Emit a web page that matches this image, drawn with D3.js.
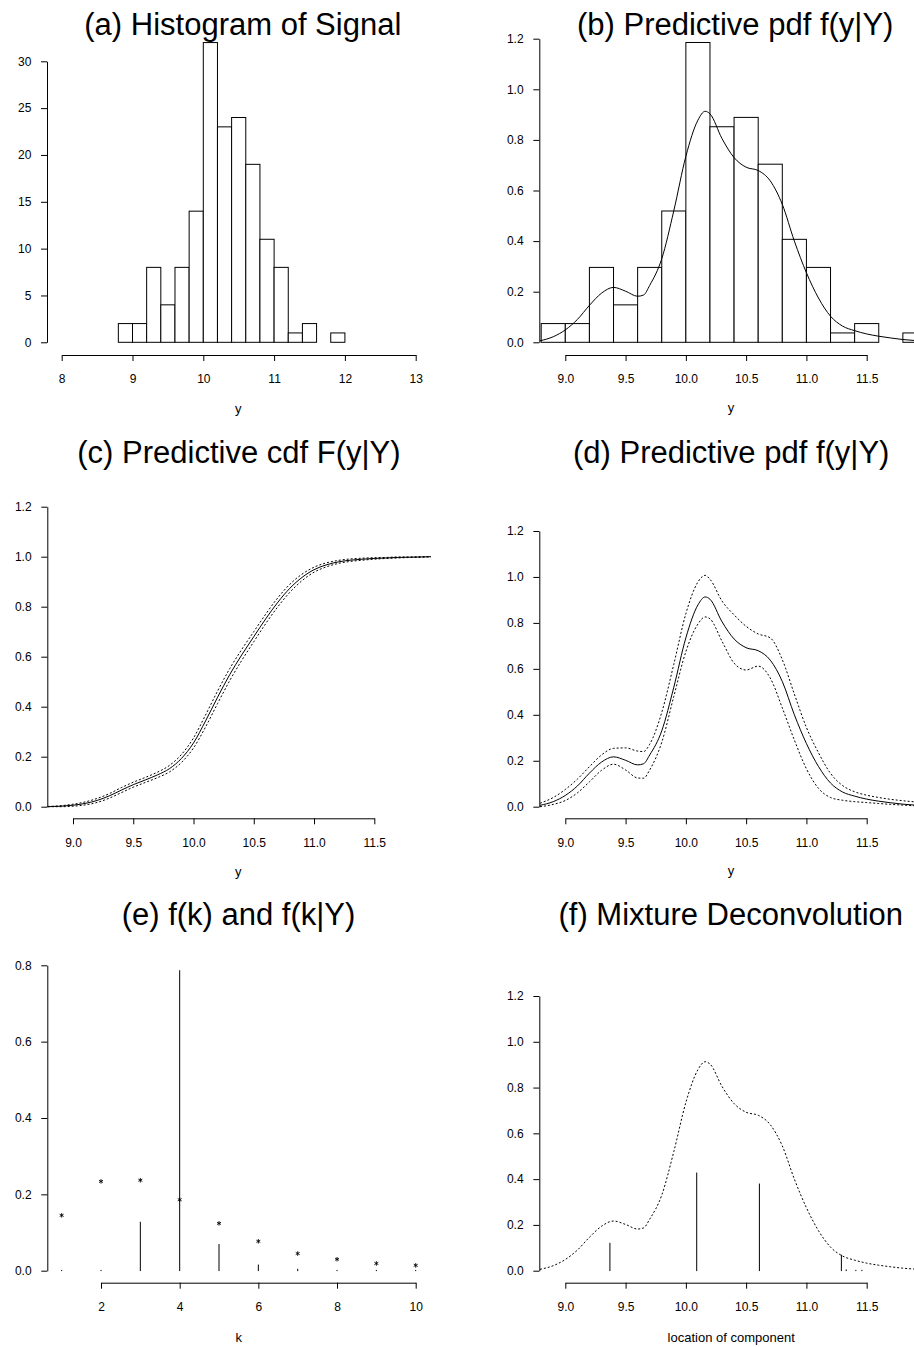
<!DOCTYPE html>
<html><head><meta charset="utf-8">
<script src="https://cdn.jsdelivr.net/npm/d3@7"></script>
<style>
body{margin:0;background:#fff}
svg text{font-family:"Liberation Sans",Arial,Helvetica,sans-serif;fill:#000}
</style>
</head><body><script>
// ---------- data ----------
const histBreaks = [8.8,9.0,9.2,9.4,9.6,9.8,10.0,10.2,10.4,10.6,10.8,11.0,11.2,11.4,11.6,11.8,12.0];
const histCounts = [2,2,8,4,8,14,32,23,24,19,11,8,1,2,0,1];
const histDensity = [0.074,0.074,0.296,0.148,0.296,0.519,1.185,0.852,0.889,0.704,0.407,0.296,0.037,0.074,0,0.037];

const yGrid   = [8.79,8.9,9.0,9.1,9.2,9.3,9.4,9.5,9.6,9.65,9.7,9.8,9.9,10.0,10.1,10.16,10.2,10.3,10.4,10.5,10.6,10.7,10.8,10.9,11.0,11.1,11.2,11.3,11.4,11.5,11.6,11.7,11.8,11.9,11.97];
const pdfMean = [0.006,0.022,0.049,0.09,0.146,0.194,0.217,0.202,0.182,0.187,0.225,0.33,0.52,0.735,0.878,0.913,0.903,0.805,0.73,0.692,0.679,0.638,0.545,0.40,0.275,0.175,0.103,0.064,0.046,0.033,0.024,0.017,0.011,0.007,0.005];
const pdfUpper= [0.015,0.04,0.075,0.12,0.174,0.225,0.254,0.256,0.242,0.24,0.272,0.41,0.62,0.84,0.978,1.007,0.99,0.895,0.835,0.785,0.752,0.735,0.64,0.49,0.345,0.235,0.145,0.092,0.065,0.05,0.04,0.032,0.026,0.021,0.018];
const pdfLower= [0.0,0.01,0.027,0.06,0.108,0.158,0.185,0.16,0.125,0.124,0.16,0.28,0.48,0.675,0.795,0.826,0.818,0.72,0.625,0.595,0.612,0.56,0.43,0.29,0.165,0.08,0.04,0.028,0.022,0.018,0.014,0.01,0.007,0.004,0.003];

const cdfGrid  = [8.79,8.9,9.0,9.1,9.2,9.3,9.4,9.5,9.6,9.7,9.8,9.9,10.0,10.1,10.2,10.3,10.4,10.5,10.6,10.7,10.8,10.9,11.0,11.1,11.2,11.3,11.4,11.5,11.6,11.7,11.8,11.9,11.97];
const cdfMean  = [0.0,0.002,0.006,0.013,0.025,0.043,0.066,0.088,0.107,0.127,0.152,0.193,0.255,0.343,0.438,0.528,0.607,0.68,0.752,0.818,0.874,0.917,0.948,0.967,0.979,0.986,0.99,0.993,0.995,0.997,0.998,0.999,1.0];
const cdfUpper = [0.001,0.004,0.01,0.019,0.033,0.052,0.076,0.098,0.117,0.138,0.165,0.209,0.275,0.367,0.463,0.552,0.629,0.70,0.771,0.836,0.89,0.93,0.958,0.975,0.985,0.991,0.994,0.996,0.997,0.999,0.999,1.0,1.0];
const cdfLower = [0.0,0.0,0.002,0.007,0.017,0.034,0.056,0.078,0.097,0.116,0.139,0.177,0.235,0.319,0.413,0.504,0.585,0.66,0.733,0.80,0.858,0.904,0.938,0.959,0.973,0.981,0.986,0.99,0.993,0.995,0.997,0.998,1.0];

const kValues = [1,2,3,4,5,6,7,8,9,10];
const priorK  = [0.145,0.234,0.237,0.186,0.124,0.077,0.045,0.030,0.019,0.014];
const postK   = [0.001,0.001,0.127,0.786,0.069,0.015,0.004,0.001,0.001,0.001];

const compLoc    = [9.37,10.09,10.61,11.29,11.33,11.41,11.46];
const compWeight = [0.12,0.427,0.379,0.068,0.004,0.002,0.002];

const xTicksA = [8,9,10,11,12,13];
const yTicksA = [0,5,10,15,20,25,30];
const xTicksY = [9.0,9.5,10.0,10.5,11.0,11.5];
const yTicksP = [0,0.2,0.4,0.6,0.8,1.0,1.2];
const xTicksK = [2,4,6,8,10];
const yTicksK = [0,0.2,0.4,0.6,0.8];

const titles = ["(a) Histogram of Signal","(b) Predictive pdf f(y|Y)","(c) Predictive cdf F(y|Y)",
                "(d) Predictive pdf f(y|Y)","(e) f(k) and f(k|Y)","(f) Mixture Deconvolution"];
const xLabels = ["y","y","y","y","k","location of component"];

// ---------- drawing ----------
const svg = d3.select("body").append("svg").attr("width",914).attr("height",1347);
const f1 = d3.format(".1f"), f0 = d3.format("d");

function axes(xs, ys, xt, yt, xf, yf, axX, axY, pad){
  const gy = svg.append("g").attr("transform",`translate(${axX},0)`)
    .call(d3.axisLeft(ys).tickValues(yt).tickFormat(yf).tickSize(6).tickSizeOuter(0).tickPadding(9.7));
  const gx = svg.append("g").attr("transform",`translate(0,${axY})`)
    .call(d3.axisBottom(xs).tickValues(xt).tickFormat(xf).tickSize(6).tickSizeOuter(0).tickPadding(pad));
  [gy,gx].forEach(g=>{
    g.attr("font-size",12).attr("font-family",'"Liberation Sans",Arial,sans-serif');
    g.selectAll("path,line").attr("stroke","#000");
    g.selectAll("text").attr("fill","#1a1a1a");
  });
}
function title(t, x, y){
  svg.append("text").attr("x",x).attr("y",y).attr("text-anchor","middle").attr("font-size",31).text(t);
}
function xlab(t, x, y){
  svg.append("text").attr("x",x).attr("y",y).attr("text-anchor","middle").attr("font-size",13).attr("fill","#1a1a1a").text(t);
}
function curve(xs, ys, X, Y, dash){
  const line = d3.line().x((d,i)=>xs(X[i])).y(d=>ys(d)).curve(d3.curveMonotoneX);
  svg.append("path").attr("d",line(Y)).attr("fill","none").attr("stroke","#000")
    .attr("stroke-width",1).attr("stroke-dasharray",dash||null);
}

// (a)
{
  const xs = d3.scaleLinear().domain([8,13]).range([61.7,415.7]);
  const ys = d3.scaleLinear().domain([0,30]).range([342.3,61.3]);
  svg.append("g").selectAll("rect").data(histCounts).join("rect")
    .attr("x",(d,i)=>xs(histBreaks[i])).attr("width",(d,i)=>xs(histBreaks[i+1])-xs(histBreaks[i]))
    .attr("y",d=>ys(d)).attr("height",d=>ys(0)-ys(d))
    .attr("fill","#fff").attr("stroke","#000").attr("stroke-width",1);
  axes(xs, ys, xTicksA, yTicksA, f0, f0, 47, 355, 13.2);
  title(titles[0], 242.8, 35);
  xlab(xLabels[0], 238.3, 412.5);
}
// (b)
{
  const xs = d3.scaleLinear().domain([9,11.5]).range([565.3,866.7]);
  const ys = d3.scaleLinear().domain([0,1.2]).range([342.3,38.7]);
  svg.append("g").selectAll("rect").data(histDensity).join("rect")
    .attr("x",(d,i)=>xs(histBreaks[i])).attr("width",(d,i)=>xs(histBreaks[i+1])-xs(histBreaks[i]))
    .attr("y",d=>ys(d)).attr("height",d=>ys(0)-ys(d))
    .attr("fill","#fff").attr("stroke","#000").attr("stroke-width",1);
  curve(xs, ys, yGrid, pdfMean);
  axes(xs, ys, xTicksY, yTicksP, f1, f1, 539.3, 355, 13.2);
  title(titles[1], 735.2, 35);
  xlab(xLabels[1], 731, 411.5);
}
// (c)
{
  const xs = d3.scaleLinear().domain([9,11.5]).range([73,374.3]);
  const ys = d3.scaleLinear().domain([0,1.2]).range([806.7,506.7]);
  curve(xs, ys, cdfGrid, cdfUpper, "2,2");
  curve(xs, ys, cdfGrid, cdfLower, "2,2");
  curve(xs, ys, cdfGrid, cdfMean);
  axes(xs, ys, xTicksY, yTicksP, f1, f1, 47.3, 818.3, 14.5);
  title(titles[2], 238.9, 463.3);
  xlab(xLabels[2], 238.3, 876);
}
// (d)
{
  const xs = d3.scaleLinear().domain([9,11.5]).range([565.3,866.7]);
  const ys = d3.scaleLinear().domain([0,1.2]).range([806.7,531]);
  curve(xs, ys, yGrid, pdfUpper, "2,2");
  curve(xs, ys, yGrid, pdfLower, "2,2");
  curve(xs, ys, yGrid, pdfMean);
  axes(xs, ys, xTicksY, yTicksP, f1, f1, 539.3, 818.3, 14.5);
  title(titles[3], 731.2, 463.3);
  xlab(xLabels[3], 731, 875);
}
// (e)
{
  const xs = d3.scaleLinear().domain([2,10]).range([101,415.7]);
  const ys = d3.scaleLinear().domain([0,0.8]).range([1270.7,965.3]);
  svg.append("g").selectAll("line").data(postK).join("line")
    .attr("x1",(d,i)=>xs(kValues[i])).attr("x2",(d,i)=>xs(kValues[i]))
    .attr("y1",ys(0)).attr("y2",d=>ys(d))
    .attr("stroke","#000").attr("stroke-width",1).attr("stroke-linecap","round");
  const sym = d3.symbol().type(d3.symbolAsterisk).size(14);
  svg.append("g").selectAll("path").data(priorK).join("path")
    .attr("transform",(d,i)=>`translate(${xs(kValues[i])},${ys(d)})`)
    .attr("d",sym()).attr("fill","none").attr("stroke","#000").attr("stroke-width",0.9);
  axes(xs, ys, xTicksK, yTicksK, f0, f1, 47.3, 1282.7, 13.8);
  title(titles[4], 238.5, 925);
  xlab(xLabels[4], 238.7, 1342);
}
// (f)
{
  const xs = d3.scaleLinear().domain([9,11.5]).range([565.3,866.7]);
  const ys = d3.scaleLinear().domain([0,1.2]).range([1270.7,996]);
  curve(xs, ys, yGrid, pdfMean, "2,2");
  svg.append("g").selectAll("line").data(compWeight).join("line")
    .attr("x1",(d,i)=>xs(compLoc[i])).attr("x2",(d,i)=>xs(compLoc[i]))
    .attr("y1",ys(0)).attr("y2",d=>ys(d))
    .attr("stroke","#000").attr("stroke-width",1).attr("stroke-linecap","round");
  axes(xs, ys, xTicksY, yTicksP, f1, f1, 539.3, 1282.7, 13.8);
  title(titles[5], 730.8, 925);
  xlab(xLabels[5], 731.2, 1342);
}
</script></body></html>
